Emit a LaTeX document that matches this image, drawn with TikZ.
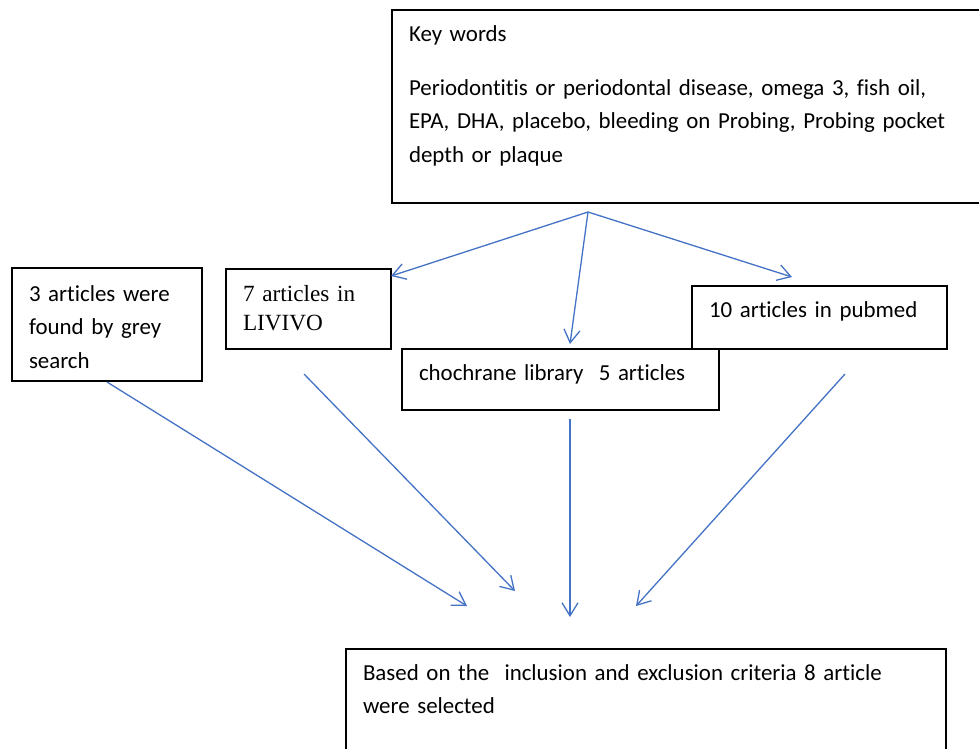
\documentclass[tikz,border=0pt]{standalone}
\usepackage{fontspec}
\setmainfont{Carlito}[Ligatures=NoCommon]
\newfontfamily\timesfont{Liberation Serif}
\usetikzlibrary{arrows.meta}
\definecolor{flowblue}{RGB}{68,114,196}
\begin{document}
\begin{tikzpicture}[x=1pt,y=-1pt,
  box/.style={draw=black, line width=1.4pt, rectangle, anchor=north west, align=left,
    inner xsep=17pt, inner ysep=0pt, outer sep=0pt, text height=31pt,
    font=\fontsize{22.9}{33.5}\selectfont},
  flow/.style={draw=flowblue, line width=1.3pt, -{Straight Barb[length=13pt,width=16pt]}}]
\useasboundingbox (0,0) rectangle (979,748);

% Search terms
\node[box, text width=566pt, text depth=162pt] (keys) at (392,10)
  {Key words\\[20.5pt]
   Periodontitis or periodontal disease, omega 3, fish oil,\\
   EPA, DHA, placebo, bleeding on Probing, Probing pocket\\
   depth or plaque};

% Sources
\node[box, text width=156pt, text height=33pt, text depth=80pt] (grey) at (12,268)
  {3 articles were\\found by grey\\search};
\node[box, text width=131pt, text height=32pt, text depth=48pt,
  font=\timesfont\fontsize{23.2}{29}\selectfont] (livivo) at (226,269)
  {7 articles in\\LIVIVO};
\node[box, text width=221pt, text depth=32pt] (pubmed) at (692,286)
  {10 articles in pubmed};
\node[box, text width=283pt, text depth=30pt] (cochrane) at (402,349)
  {chochrane library\ \ 5 articles};

% Result
\node[box, text width=566pt, text depth=80pt] (result) at (346,649)
  {Based on the\ \ inclusion and exclusion criteria 8 article\\were selected};

% Arrow ends
\coordinate (fork) at (588,212);
\coordinate (toLivivo) at (391,276);
\coordinate (toCochrane) at (570,344);
\coordinate (toPubmed) at (792,277);
\coordinate (fromGrey) at (107,382);
\coordinate (fromLivivo) at (304,374);
\coordinate (fromCochrane) at (570,419);
\coordinate (fromPubmed) at (845,374);
\coordinate (endGrey) at (467,606);
\coordinate (endLivivo) at (515,591);
\coordinate (endCochrane) at (570,617);
\coordinate (endPubmed) at (636,606);

% Keywords to sources
\draw[flow] (fork) -- (toLivivo);
\draw[flow] (fork) -- (toCochrane);
\draw[flow] (fork) -- (toPubmed);

% Sources to selection
\draw[flow] (fromGrey) -- (endGrey);
\draw[flow] (fromLivivo) -- (endLivivo);
\draw[flow] (fromCochrane) -- (endCochrane);
\draw[flow] (fromPubmed) -- (endPubmed);
\end{tikzpicture}
\end{document}
